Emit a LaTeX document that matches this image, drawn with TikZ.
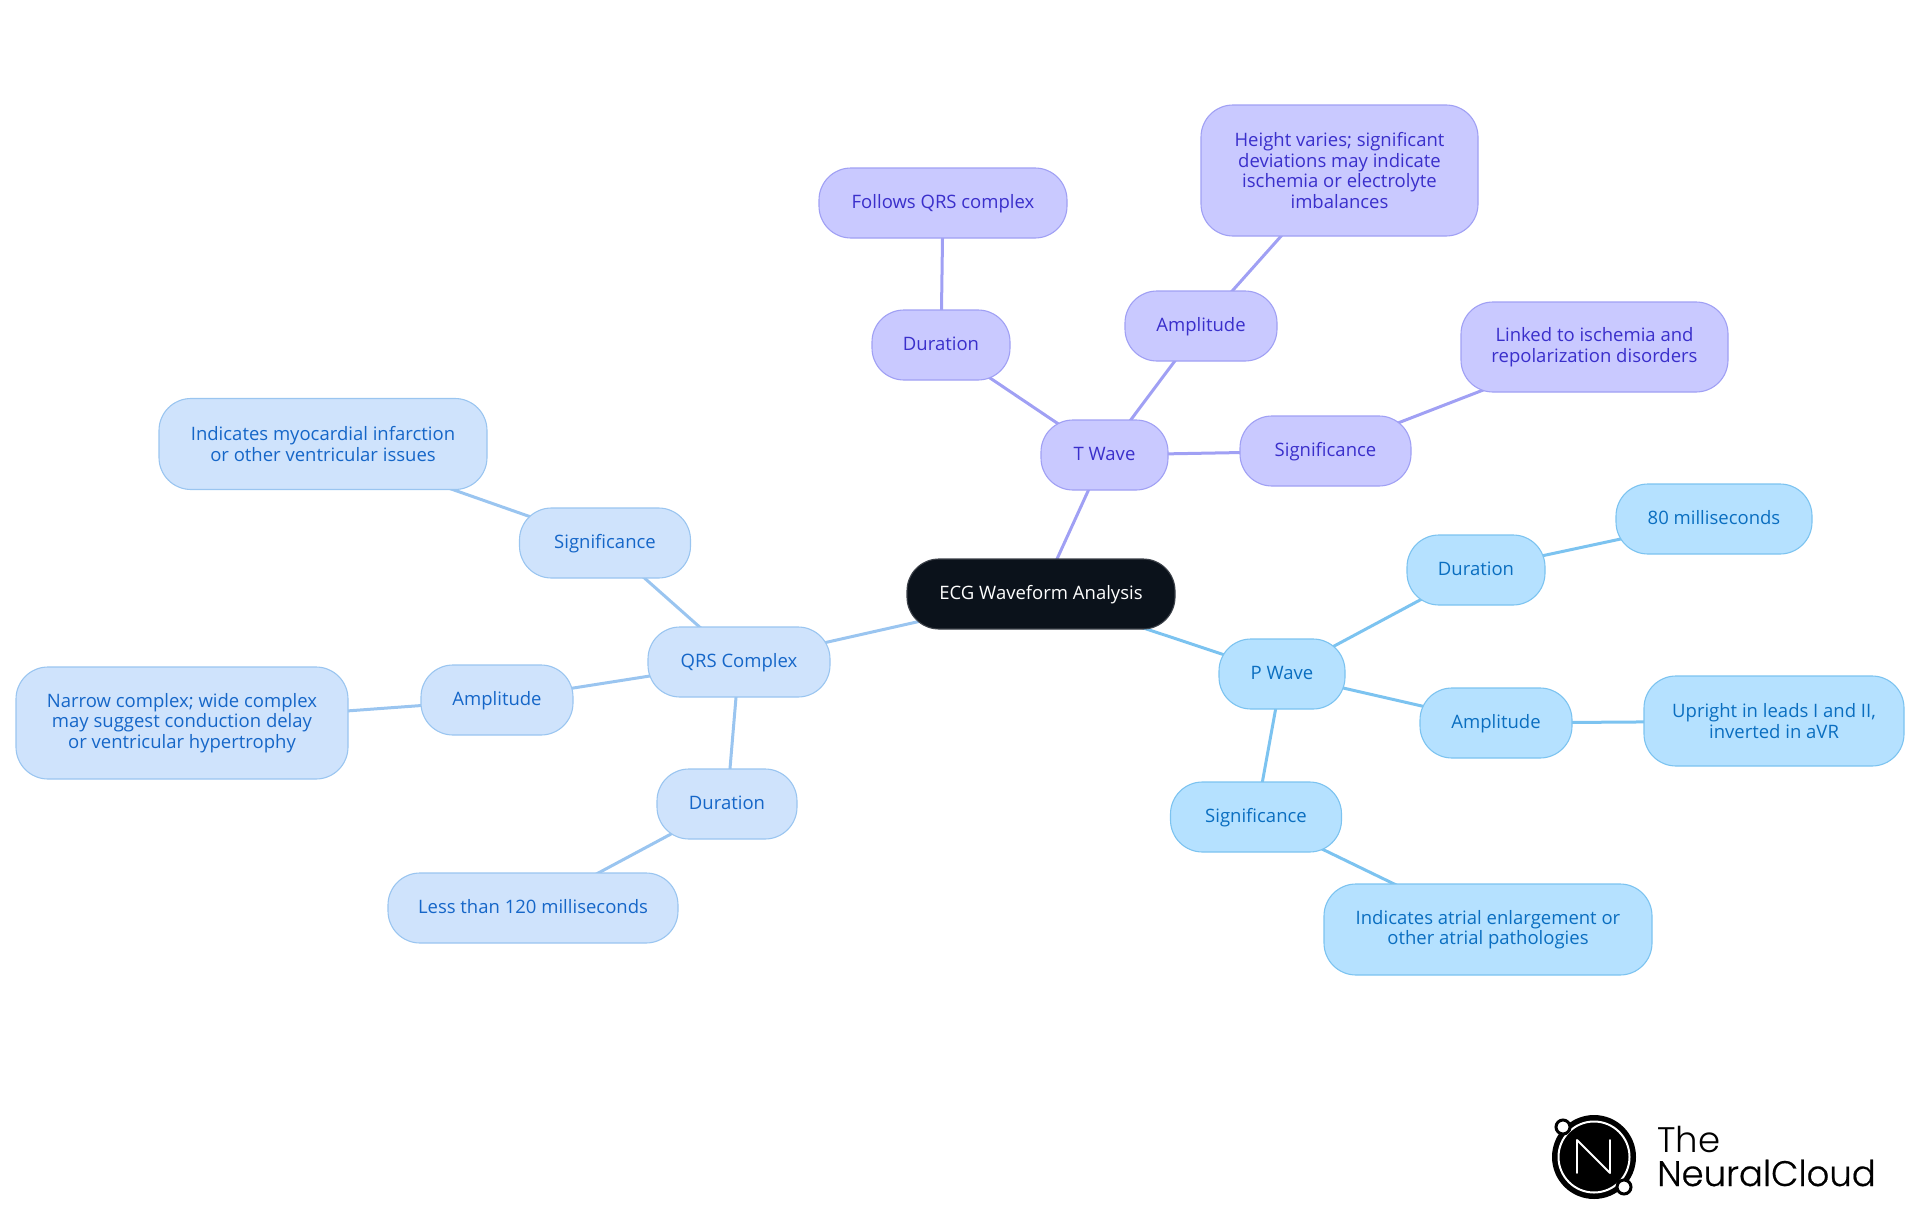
\documentclass[tikz,border=0pt]{standalone}
\usepackage{fontspec}
\setmainfont{Open Sans}
\newfontfamily\logofont{Poppins Light}
\newfontfamily\logofontb[FakeBold=0.5]{Poppins Light}
\usetikzlibrary{backgrounds}
\definecolor{pfill}{HTML}{B5E1FF}\definecolor{pline}{HTML}{7CC3F0}\definecolor{ptext}{HTML}{0A6EC0}
\definecolor{qfill}{HTML}{CFE3FC}\definecolor{qline}{HTML}{9AC5F0}\definecolor{qtext}{HTML}{1566C8}
\definecolor{tfill}{HTML}{C9C9FF}\definecolor{tline}{HTML}{A0A0F4}\definecolor{ttext}{HTML}{3A2FCB}
\definecolor{rootfill}{HTML}{0B121B}
\tikzset{
  box/.style={rectangle,rounded corners=32pt,line width=1.1pt,inner sep=0pt,align=center,
     font=\fontsize{18.5}{20.4}\selectfont},
  one/.style={text height=13.5pt,text depth=2.5pt},
  pbox/.style={box,fill=pfill,draw=pline,text=ptext},
  qbox/.style={box,fill=qfill,draw=qline,text=qtext},
  tbox/.style={box,fill=tfill,draw=tline,text=ttext},
  rootbox/.style={box,fill=rootfill,draw=rootfill!80!white,text=white},
  plink/.style={draw=pline,line width=3pt},
  qlink/.style={draw=qline,line width=3pt},
  tlink/.style={draw=tline,line width=3pt},
  sz/.style 2 args={minimum width=#1pt,minimum height=#2pt},
  logotext/.style={inner sep=0pt,anchor=base west,text=black,font=\logofont\fontsize{35.5}{36}\selectfont},
  logotextb/.style={logotext,font=\logofontb\fontsize{35.5}{36}\selectfont}
}
\begin{document}
\begin{tikzpicture}[x=1pt,y=-1pt]
\useasboundingbox (0,0) rectangle (1920,1215);
\node[rootbox,one,sz={268}{70}] (root) at (1041,594) {ECG Waveform Analysis};
% T wave
\node[tbox,one,sz={127}{70}] (t) at (1104.5,455) {T Wave};
\node[tbox,one,sz={138}{70}] (td) at (941,345) {Duration};
\node[tbox,one,sz={248}{70}] (tdv) at (943,203) {Follows QRS complex};
\node[tbox,one,sz={152}{70}] (ta) at (1201,326) {Amplitude};
\node[tbox,sz={277}{131}] (tav) at (1339.5,170.5) {Height varies; significant\\deviations may indicate\\ischemia or electrolyte\\imbalances};
\node[tbox,one,sz={171}{70}] (ts) at (1325.5,451) {Significance};
\node[tbox,sz={267}{90}] (tsv) at (1594.5,347) {Linked to ischemia and\\repolarization disorders};
% P wave
\node[pbox,one,sz={126}{70}] (p) at (1282,674) {P Wave};
\node[pbox,one,sz={138}{70}] (pd) at (1476,570) {Duration};
\node[pbox,one,sz={196}{70}] (pdv) at (1714,519) {80 milliseconds};
\node[pbox,one,sz={152}{70}] (pa) at (1496,723) {Amplitude};
\node[pbox,sz={260}{90}] (pav) at (1774,721) {Upright in leads I and II,\\inverted in aVR};
\node[pbox,one,sz={171}{70}] (ps) at (1256,817) {Significance};
\node[pbox,sz={328}{91}] (psv) at (1488,929.5) {Indicates atrial enlargement or\\other atrial pathologies};
% QRS
\node[qbox,one,sz={182}{70}] (q) at (739,662) {QRS Complex};
\node[qbox,one,sz={171}{70}] (qs) at (605,543) {Significance};
\node[qbox,sz={328}{91}] (qsv) at (323,444) {Indicates myocardial infarction\\or other ventricular issues};
\node[qbox,one,sz={152}{70}] (qa) at (497,700) {Amplitude};
\node[qbox,sz={332}{112}] (qav) at (182,723) {Narrow complex; wide complex\\may suggest conduction delay\\or ventricular hypertrophy};
\node[qbox,one,sz={140}{70}] (qd) at (727,804) {Duration};
\node[qbox,one,sz={290}{70}] (qdv) at (533,908) {Less than 120 milliseconds};
\begin{scope}[on background layer]
\draw[tlink] (root.center) -- (t.center);
\draw[tlink] (t.center) -- (td.center);
\draw[tlink] (td.center) -- (tdv.center);
\draw[tlink] (t.center) -- (ta.center);
\draw[tlink] (ta.center) -- (tav.center);
\draw[tlink] (t.center) -- (ts.center);
\draw[tlink] (ts.center) -- (tsv.center);
\draw[plink] (root.center) -- (p.center);
\draw[plink] (p.center) -- (pd.center);
\draw[plink] (pd.center) -- (pdv.center);
\draw[plink] (p.center) -- (pa.center);
\draw[plink] (pa.center) -- (pav.center);
\draw[plink] (p.center) -- (ps.center);
\draw[plink] (ps.center) -- (psv.center);
\draw[qlink] (root.center) -- (q.center);
\draw[qlink] (q.center) -- (qs.center);
\draw[qlink] (qs.center) -- (qsv.center);
\draw[qlink] (q.center) -- (qa.center);
\draw[qlink] (qa.center) -- (qav.center);
\draw[qlink] (q.center) -- (qd.center);
\draw[qlink] (qd.center) -- (qdv.center);
\end{scope}
% logo
\fill[black] (1594,1157) circle (42);
\draw[white,line width=2pt] (1594,1157) circle (35.5);
\draw[white,line width=1.8pt,line join=round,line cap=round] (1577,1173) -- (1577,1140) -- (1610,1173) -- (1610,1140);
\draw[black,fill=white,line width=3pt] (1563,1127) circle (7);
\draw[black,fill=white,line width=3pt] (1624,1187) circle (7);
\node[logotext] (lt1) at (1657,1152) {The};
\node[logotextb] (lt2) at (1657,1186) {NeuralCloud};
\end{tikzpicture}
\end{document}
